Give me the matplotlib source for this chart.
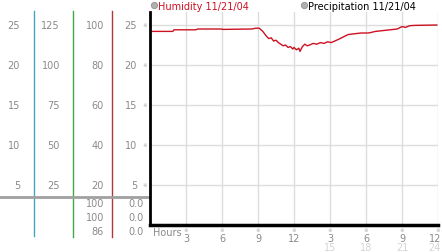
import matplotlib
matplotlib.use("Agg")
import matplotlib.pyplot as plt
import matplotlib.transforms as mtransforms

# humidity trace, hours since midnight 11/21/04
hours = [0, 1.9, 2.0, 3.8, 4.0, 5.9, 6.1, 8.5, 8.8, 9.1, 9.4, 9.7, 9.9, 10.1,
         10.3, 10.5, 10.7, 10.9, 11.1, 11.3, 11.5, 11.7, 11.9, 12.0, 12.2,
         12.4, 12.5, 12.7, 12.9, 13.1, 13.3, 13.6, 13.9, 14.2, 14.5, 14.8,
         15.1, 15.4, 15.7, 16.1, 16.5, 17.0, 17.6, 18.2, 18.8, 19.4, 20.0,
         20.6, 21.0, 21.3, 21.6, 22.0, 23.9]
humidity = [24.2, 24.2, 24.4, 24.4, 24.5, 24.5, 24.45, 24.5, 24.6, 24.6, 24.2,
            23.6, 23.3, 23.4, 23.0, 23.1, 22.8, 22.6, 22.4, 22.5, 22.2, 22.3,
            22.0, 22.2, 21.9, 22.1, 21.7, 22.3, 22.6, 22.4, 22.5, 22.7, 22.6,
            22.8, 22.7, 22.9, 22.8, 23.0, 23.2, 23.5, 23.8, 23.9, 24.0, 24.0,
            24.2, 24.3, 24.4, 24.5, 24.8, 24.7, 24.9, 24.95, 25.0]

left_col = ["25", "20", "15", "10", "5"]
col2 = ["125", "100", "75", "50", "25"]
col3 = ["100", "80", "60", "40", "20"]
col4 = ["25", "20", "15", "10", "5"]
rows = [25, 20, 15, 10, 5]
now3 = ["100", "100", "86"]
now4 = ["0.0", "0.0", "0.0"]
hour_ticks = [3, 6, 9, 12, 15, 18, 21, 24]
hour_labels = ["3", "6", "9", "12", "3", "6", "9", "12"]
hour_labels2 = ["", "", "", "", "15", "18", "21", "24"]

W, H = 442, 253
fig = plt.figure(figsize=(W / 100, H / 100), dpi=100)
fig.patch.set_facecolor("white")

# overlay in pixel coords for the scale panel on the left
ov = fig.add_axes([0, 0, 1, 1])
ov.set_xlim(0, W)
ov.set_ylim(H, 0)
ov.axis("off")

ax = fig.add_axes([150 / W, (H - 226) / H, 288 / W, 213 / H])
ax.set_xlim(0, 24)
ax.set_ylim(0, 213 / 8)
ax.plot(hours, humidity, color="#cc1122", lw=1.0)
ax.set_xticks(hour_ticks)
ax.set_yticks(rows)
ax.grid(True, color="#dddddd", lw=1)
ax.tick_params(length=0, labelbottom=False, labelleft=False)
for s in ["top", "right"]:
    ax.spines[s].set_visible(False)
ax.spines["left"].set_linewidth(2)
ax.spines["bottom"].set_linewidth(2.5)
ax.set_axisbelow(True)

gray = "#8a8a8a"
fs = 7
tr = mtransforms.blended_transform_factory(ov.transData, ax.transData)
for i, v in enumerate(rows):
    ov.text(20, v, left_col[i], transform=tr, ha="right", va="center", fontsize=fs, color=gray)
    ov.text(60, v, col2[i], transform=tr, ha="right", va="center", fontsize=fs, color=gray)
    ov.text(104, v, col3[i], transform=tr, ha="right", va="center", fontsize=fs, color=gray)
    ov.text(137, v, col4[i], transform=tr, ha="right", va="center", fontsize=fs, color=gray)
    ov.text(145, v, "※", transform=tr, ha="center", va="center", fontsize=4, color="#aaaaaa")

ov.plot([33.5, 33.5], [12, 237], color="#3fa8c0", lw=1)
ov.plot([72.5, 72.5], [12, 238], color="#3fa84a", lw=1)
ov.plot([111.5, 111.5], [12, 238], color="#b03838", lw=1)
ov.plot([0, 149], [198, 198], color="#a0a0a0", lw=2)

for i in range(3):
    y = 204 + 14 * i
    ov.text(104, y, now3[i], ha="right", va="center", fontsize=fs, color=gray)
    ov.text(144, y, now4[i], ha="right", va="center", fontsize=fs, color=gray)

# x axis labels
trx = mtransforms.blended_transform_factory(ax.transData, ov.transData)
ov.text(153, 233, "Hours", ha="left", va="center", fontsize=fs, color=gray)
for i, h in enumerate(hour_ticks):
    ha, x = "center", h
    if h == hour_ticks[-1]:
        ha, x = "right", h + 0.25
    ov.text(h, 231, "※", transform=trx, ha="center", va="center", fontsize=4, color="#aaaaaa")
    ov.text(x, 239, hour_labels[i], transform=trx, ha=ha, va="center", fontsize=fs, color=gray)
    ov.text(x, 248, hour_labels2[i], transform=trx, ha=ha, va="center", fontsize=fs, color="#d4d4d4")

# legend
ov.plot([154], [6], "o", ms=4.5, color="#b0b0b0", mec="#909090", mew=0.6)
ov.text(158.5, 6.5, "Humidity 11/21/04", ha="left", va="center", fontsize=fs, color="#cc1122")
ov.plot([304], [6], "o", ms=4.5, color="#b0b0b0", mec="#909090", mew=0.6)
ov.text(308.5, 6.5, "Precipitation 11/21/04", ha="left", va="center", fontsize=fs, color="black")

fig.savefig("out.png", dpi=100)
